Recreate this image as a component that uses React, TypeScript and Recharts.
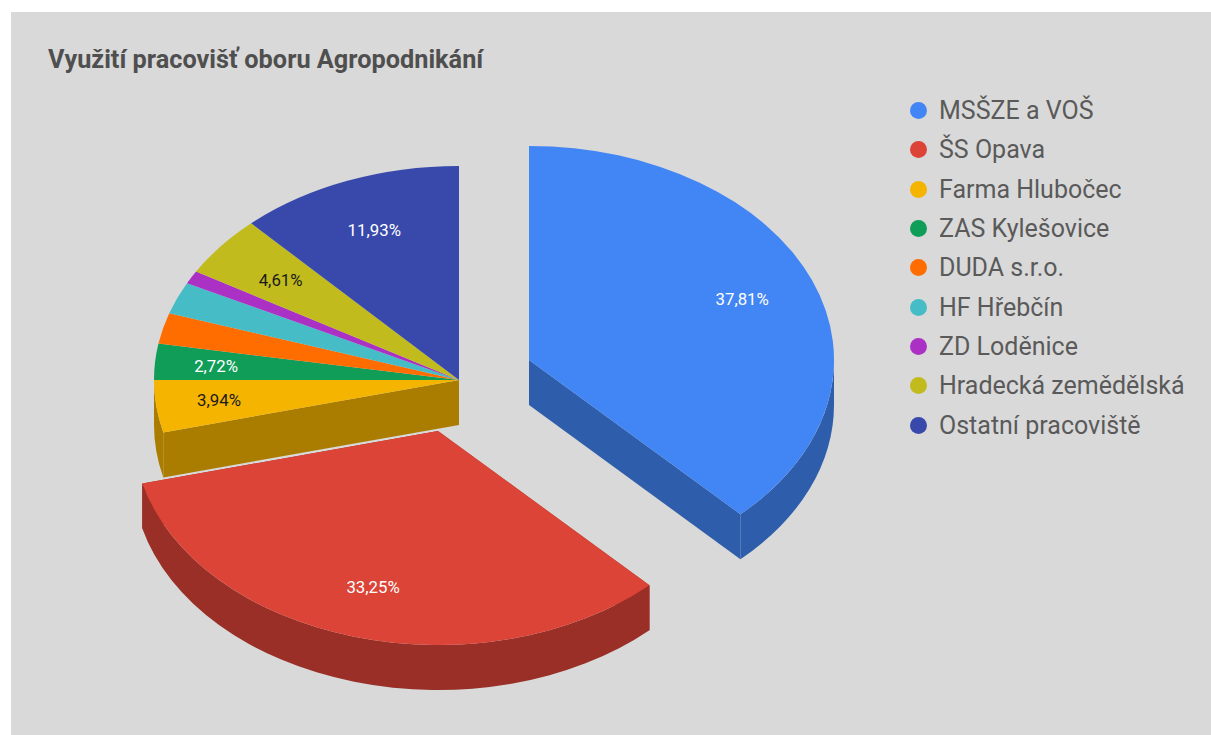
import React from "react";
import { PieChart, Pie, Legend } from "recharts";

const sliceNames = [
  "MSŠZE a VOŠ",
  "ŠS Opava",
  "Farma Hlubočec",
  "ZAS Kylešovice",
  "DUDA s.r.o.",
  "HF Hřebčín",
  "ZD Loděnice",
  "Hradecká zemědělská",
  "Ostatní pracoviště",
];
const sliceValues = [37.81, 33.25, 3.94, 2.72, 2.33, 2.42, 0.99, 4.61, 11.93];
const sliceColors = ["#4285f4", "#db4437", "#f4b400", "#0f9d58", "#ff6d00", "#46bdc6", "#ab30c4", "#c1bb1e", "#3949ab"];
const sideColors = ["#2e5dab", "#992f26", "#aa7d00", "#0a6d3d", "#b24c00", "#31848a", "#772189", "#878215", "#273277"];
const labelColors = ["#ffffff", "#ffffff", "#1a1a1a", "#ffffff", "", "", "", "#1a1a1a", "#ffffff"];

const explodeX = [70, -21, 0, 0, 0, 0, 0, 0, 0];
const explodeY = [-20, 51, 0, 0, 0, 0, 0, 0, 0];
const labelNudgeX = [1, -2, -13, -15, 0, 0, 0, 0, -1];
const labelNudgeY = [-1, 2, 0, 0, 0, 0, 0, 0, -1];

const RX = 305;
const RY = 214;
const DEPTH = 45;

const tableRows = sliceNames.map((name, i) => ({ name, value: sliceValues[i], fill: sliceColors[i] }));

const indexOfName = (name: string) => sliceNames.indexOf(name);
const pt = (cx: number, cy: number, deg: number) => {
  const a = (deg * Math.PI) / 180;
  return { x: cx + RX * Math.cos(a), y: cy - RY * Math.sin(a) };
};
const arc = (from: { x: number; y: number }, to: { x: number; y: number }, large: boolean, sweep: number) =>
  `A ${RX} ${RY} 0 ${large ? 1 : 0} ${sweep} ${to.x} ${to.y}`;

function TopShape(props: any) {
  const { cx, cy, startAngle, endAngle, name } = props;
  const i = indexOfName(name);
  const ox = cx + explodeX[i];
  const oy = cy + explodeY[i];
  const s = pt(ox, oy, startAngle);
  const e = pt(ox, oy, endAngle);
  const d = `M ${ox} ${oy} L ${s.x} ${s.y} ${arc(s, e, startAngle - endAngle > 180, 1)} Z`;
  return <path d={d} fill={sliceColors[i]} />;
}

function SideShape(props: any) {
  const { cx, cy, startAngle, endAngle, name } = props;
  const i = indexOfName(name);
  const ox = cx + explodeX[i];
  const oy = cy + explodeY[i];
  const fill = sideColors[i];
  const n = sliceNames.length;
  const sameOffset = (j: number) => explodeX[j] === explodeX[i] && explodeY[j] === explodeY[i];
  const walls: React.ReactNode[] = [];
  const radial = (deg: number, key: string) => {
    const p = pt(ox, oy, deg);
    walls.push(
      <path
        key={key}
        d={`M ${ox} ${oy} L ${p.x} ${p.y} L ${p.x} ${p.y + DEPTH} L ${ox} ${oy + DEPTH} Z`}
        fill={fill}
      />
    );
  };
  if (!sameOffset((i + n - 1) % n)) radial(startAngle, "start");
  if (!sameOffset((i + 1) % n)) radial(endAngle, "end");
  const hi = Math.min(startAngle, 0);
  const lo = Math.max(endAngle, -180);
  if (hi > lo) {
    const a = pt(ox, oy, hi);
    const b = pt(ox, oy, lo);
    const a2 = { x: a.x, y: a.y + DEPTH };
    const b2 = { x: b.x, y: b.y + DEPTH };
    walls.push(
      <path
        key="outer"
        d={`M ${a.x} ${a.y} ${arc(a, b, false, 1)} L ${b2.x} ${b2.y} ${arc(b2, a2, false, 0)} Z`}
        fill={fill}
      />
    );
  }
  return <g>{walls}</g>;
}

function SliceLabel(props: any) {
  const { cx, cy, midAngle, index } = props;
  const color = labelColors[index];
  if (!color) return null;
  const a = (midAngle * Math.PI) / 180;
  const x = cx + explodeX[index] + labelNudgeX[index] + 0.75 * RX * Math.cos(a);
  const y = cy + explodeY[index] + labelNudgeY[index] - 0.75 * RY * Math.sin(a);
  return (
    <text x={x} y={y} fill={color} textAnchor="middle" dominantBaseline="central" fontFamily="Roboto" fontSize={16.8}>
      {sliceValues[index].toFixed(2).replace(".", ",")}%
    </text>
  );
}

function LegendList(props: any) {
  const payload = props.payload || [];
  const items = sliceNames
    .map((name) => payload.find((it: any) => it.value === name))
    .filter(Boolean);
  return (
    <div style={{ fontFamily: "Roboto", fontSize: 25, color: "#5a5a5a" }}>
      {items.map((it: any) => (
        <div key={it.value} style={{ height: 39.3, display: "flex", alignItems: "center", whiteSpace: "nowrap" }}>
          <svg width={17} height={17} style={{ marginRight: 12, flex: "none" }}>
            <circle cx={8.5} cy={8.5} r={8.5} fill={it.color} />
          </svg>
          <span>{it.value}</span>
        </div>
      ))}
    </div>
  );
}

export default function App() {
  return (
    <div style={{ position: "absolute", left: 0, top: 0, width: 1211, height: 735, background: "#ffffff", overflow: "hidden" }}>
      <div style={{ position: "absolute", left: 11, top: 12, width: 1200, height: 723, background: "#d9d9d9" }} />
      <div
        style={{
          position: "absolute",
          left: 48,
          top: 45,
          fontFamily: "Roboto",
          fontWeight: 700,
          fontSize: 25.3,
          lineHeight: "30px",
          color: "#4f4f4f",
          whiteSpace: "nowrap",
        }}
      >
        Využití pracovišť oboru Agropodnikání
      </div>
      <div style={{ position: "absolute", left: 0, top: 0 }}>
        <PieChart width={1211} height={735} margin={{ top: 0, right: 0, bottom: 0, left: 0 }}>
          <Legend
            layout="vertical"
            align="right"
            verticalAlign="top"
            wrapperStyle={{ left: 910, top: 91, width: 301 }}
            content={<LegendList />}
          />
          <Pie
            data={tableRows}
            dataKey="value"
            nameKey="name"
            cx={459}
            cy={380}
            outerRadius={RX}
            startAngle={90}
            endAngle={-270}
            stroke="none"
            legendType="none"
            shape={SideShape}
            isAnimationActive={false}
          />
          <Pie
            data={tableRows}
            dataKey="value"
            nameKey="name"
            cx={459}
            cy={380}
            outerRadius={RX}
            startAngle={90}
            endAngle={-270}
            stroke="none"
            shape={TopShape}
            label={SliceLabel}
            labelLine={false}
            isAnimationActive={false}
          />
        </PieChart>
      </div>
    </div>
  );
}
